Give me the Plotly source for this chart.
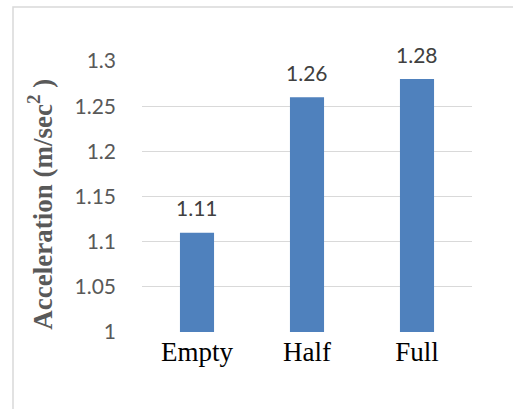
import plotly.graph_objects as go

# Load levels and measured acceleration
categories = ["Empty", "Half", "Full"]
acceleration = [1.11, 1.26, 1.28]
y_ticks = [1.0, 1.05, 1.1, 1.15, 1.2, 1.25, 1.3]
y_tick_labels = ["1", "1.05", "1.1", "1.15", "1.2", "1.25", "1.3"]

BAR_COLOR = "#4f81bd"
GRID_COLOR = "#d9d9d9"

fig = go.Figure(
    go.Bar(
        x=categories,
        y=acceleration,
        marker=dict(color=BAR_COLOR, line=dict(width=0)),
        hoverinfo="x+y",
    )
)

# Value labels above each bar
for cat, val in zip(categories, acceleration):
    fig.add_annotation(
        x=cat, y=val, text=f"{val:.2f}",
        showarrow=False, yanchor="middle", yshift=25,
        font=dict(family="Lato, Calibri, sans-serif", size=21, color="#404040"),
    )

# Rotated y-axis title
fig.add_annotation(
    xref="paper", yref="paper", x=-0.309, y=0.47,
    xanchor="center", yanchor="middle",
    text="<b>Acceleration (m/sec<sup>2</sup> )</b>",
    textangle=-90, showarrow=False,
    font=dict(family="Liberation Serif, Times New Roman, serif", size=27, color="#595959"),
)

# Chart-area frame
fig.add_shape(
    type="rect", xref="paper", yref="paper",
    x0=-0.3909, x1=1.6, y0=-0.4, y1=1.1993,
    line=dict(color=GRID_COLOR, width=1.5), fillcolor="rgba(0,0,0,0)", layer="below",
)

fig.update_layout(
    width=513, height=409,
    margin=dict(l=142, r=41, t=61, b=77),
    paper_bgcolor="white", plot_bgcolor="white",
    bargap=0.69, showlegend=False,
    xaxis=dict(
        showgrid=False, showline=False, ticks="",
        tickfont=dict(family="Liberation Serif, Times New Roman, serif", size=27, color="#000000"),
        ticklabelstandoff=1,
    ),
    yaxis=dict(
        range=[1.0, 1.3],
        tickvals=y_ticks, ticktext=y_tick_labels,
        showgrid=True, gridcolor=GRID_COLOR, gridwidth=1.3,
        zeroline=False, showline=False, ticks="",
        tickfont=dict(family="Lato, Calibri, sans-serif", size=21, color="#595959"),
        ticklabelstandoff=25,
    ),
)

fig.write_html("out.html")
